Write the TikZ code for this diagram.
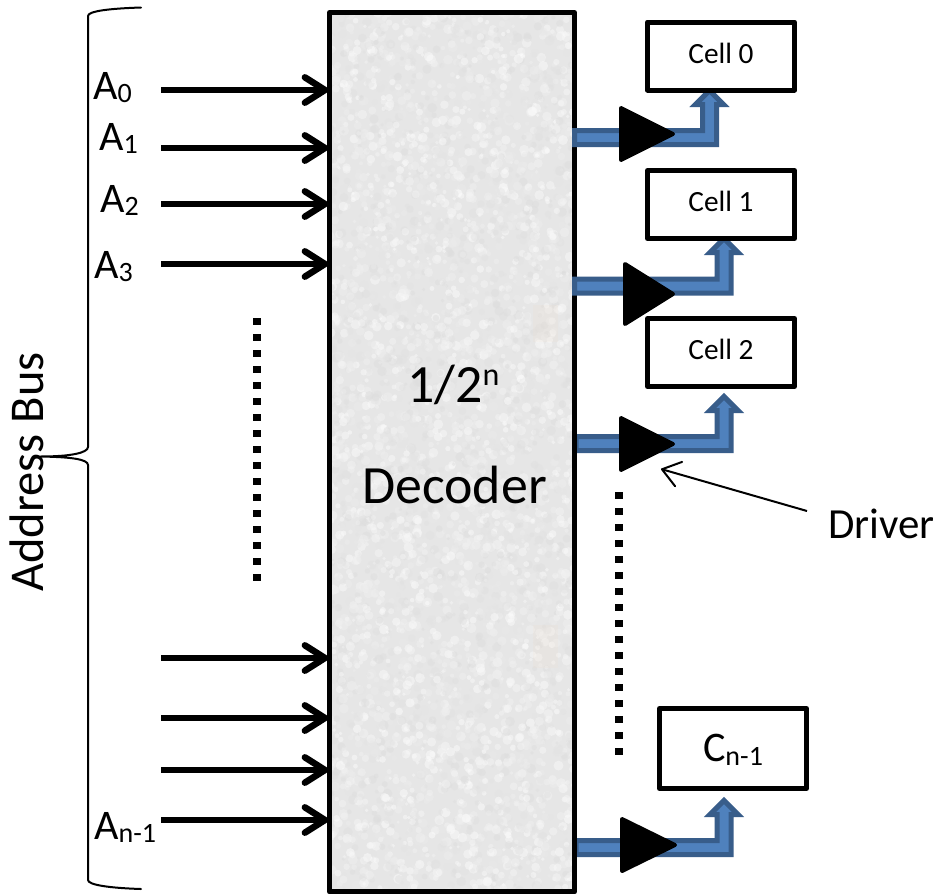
\documentclass[tikz,border=0pt]{standalone}
\usepackage{fontspec}
\setmainfont{Carlito}
\usetikzlibrary{arrows.meta}
\definecolor{busfill}{HTML}{4F81BD}
\definecolor{busline}{HTML}{385D8A}
\definecolor{decbase}{HTML}{E6E6E6}
\newcommand{\fsz}[1]{\fontsize{#1}{#1}\selectfont}
\newcommand{\addrlabel}[2]{#1{\fsz{21pt}\raisebox{-2.6pt}{#2}}}
% start x, band centre y, shaft centre x, tip y
\newcommand{\busarrow}[4]{%
  \draw[busshape] (#1,#2-7) -- (#3-7,#2-7) -- (#3-7,#4+17.5) -- (#3-14,#4+17.5)
    -- (#3,#4+3.5) -- (#3+14,#4+17.5) -- (#3+7,#4+17.5) -- (#3+7,#2+7) -- (#1,#2+7) -- cycle;}
% left x, top y, bottom y, tip x, tip y
\newcommand{\drivertri}[5]{%
  \draw[drivershape] (#1+2,#2+2) -- (#4-2,#5) -- (#1+2,#3-2) -- cycle;}
\tikzset{
  x=0.75pt, y=-0.75pt,
  cellbox/.style={draw=black, fill=white, line width=3.75pt, line join=round, minimum width=110.25pt,
    minimum height=51pt, inner sep=0pt, outer sep=0pt, font=\fsz{22pt}, text height=10.6pt, text depth=0pt},
  busshape/.style={fill=busfill, draw=busline, line width=3.75pt, line join=miter},
  drivershape/.style={fill=black, draw=black, line width=3pt, line join=round},
  addrarrow/.style={line width=4.9pt, line cap=butt, shorten >=1pt,
    -{Straight Barb[length=15pt,width=19pt,line cap=round,round]}},
  leader/.style={line width=1.5pt, -{Straight Barb[length=13pt,width=19pt,line cap=round,round]}},
  dotrun/.style={line width=6pt, dash pattern=on 5.6pt off 6.4pt},
  brace/.style={line width=1.5pt, line cap=round},
  bigtext/.style={anchor=base west, inner sep=0pt, font=\fsz{40.4pt}},
  addrtext/.style={anchor=base west, inner sep=0pt, font=\fsz{31.6pt}},
}
\begin{document}
\begin{tikzpicture}
\useasboundingbox (0,0) rectangle (933,894);
\fill[white] (0,0) rectangle (933,894);

% decoder body
\node[fill=decbase, minimum width=183.75pt, minimum height=659.6pt, inner sep=0pt, outer sep=0pt]
  (decoder) at (452,452.25) {};
\begin{scope}
  \clip (decoder.south west) rectangle (decoder.north east);
  \pgfmathsetseed{11}
  \foreach \k in {1,...,5200}{
    \pgfmathsetmacro\rx{329+rnd*246}
    \pgfmathsetmacro\ry{12+rnd*881}
    \pgfmathsetmacro\rr{1.6+rnd*3.4}
    \pgfmathsetmacro\sh{86+rnd*14}
    \fill[white!\sh!black, opacity=.45] (\rx,\ry) circle[radius=\rr];
  }
  \fill[orange!30, opacity=.08] (533,305) rectangle (558,342);
  \fill[orange!30, opacity=.08] (533,625) rectangle (558,668);
\end{scope}

% buses that pass under the decoder outline
\busarrow{576}{443.5}{724}{393}
\busarrow{576}{847.5}{724}{797}

\draw[line width=3.75pt, line join=round] (decoder.north west) rectangle (decoder.south east);

% buses that lie over the decoder outline
\busarrow{574.5}{137.5}{709.5}{87}
\busarrow{574.5}{286}{724}{235}

% drivers
\drivertri{619}{106}{162}{675}{134}
\drivertri{623}{262}{326}{675}{294}
\drivertri{619}{416}{472}{675}{444}
\drivertri{620}{817}{873}{677}{845}

% cells
\node[cellbox] (cell0) at (721,56) {Cell 0};
\node[cellbox] (cell1) at (721,204.5) {Cell 1};
\node[cellbox] (cell2) at (721,352.5) {Cell 2};
\node[cellbox, font=\fsz{31.6pt}, minimum height=60pt, text height=19pt] (celln) at (733,748.5)
  {C{\fsz{21pt}\raisebox{-3.4pt}{n-1}}};

% address lines
\foreach \nm/\yy in {p0/90,p1/148,p2/204,p3/264,p4/658,p5/718,p6/770,p7/820}{
  \coordinate (\nm) at (161,\yy);
  \draw[addrarrow] (\nm) -- (\nm -| decoder.west);
}

% address labels
\node[addrtext] (a0) at (93,99)  {\addrlabel{A}{0}};
\node[addrtext] (a1) at (99,150) {\addrlabel{A}{1}};
\node[addrtext] (a2) at (100,212) {\addrlabel{A}{2}};
\node[addrtext] (a3) at (94,278) {\addrlabel{A}{3}};
\node[addrtext] (an) at (94,839) {\addrlabel{A}{n-1}};

% dotted runs
\coordinate (dl1) at (257,318);
\coordinate (dl2) at (257,582);
\coordinate (dr1) at (619,492);
\coordinate (dr2) at (619,755);
\draw[dotrun] (dl1) -- (dl2);
\draw[dotrun] (dr1) -- (dr2);

% brace
\draw[brace] (141,7.5) .. controls (110,8.5) and (88,11) .. (88,16) -- (88,447)
  .. controls (88,453) and (70,456.5) .. (40,456.5)
  .. controls (70,457) and (88,459) .. (88,465) -- (88,880)
  .. controls (88,885) and (110,888) .. (141,889);

% texts
\node[anchor=base west, inner sep=0pt, rotate=90, font=\fsz{36.4pt}] (busname) at (43,592) {Address Bus};
\node[bigtext] (ratio) at (407,402) {1/2{\fsz{24pt}\raisebox{12.75pt}{n}}};
\node[bigtext] (decname) at (362,503) {Decoder};
\node[addrtext, font=\fsz{32.2pt}] (drvname) at (828,538) {Driver};

% driver leader
\coordinate (drvtail) at (807,511);
\coordinate (drvhead) at (661,469);
\draw[leader] (drvtail) -- (drvhead);
\end{tikzpicture}
\end{document}
